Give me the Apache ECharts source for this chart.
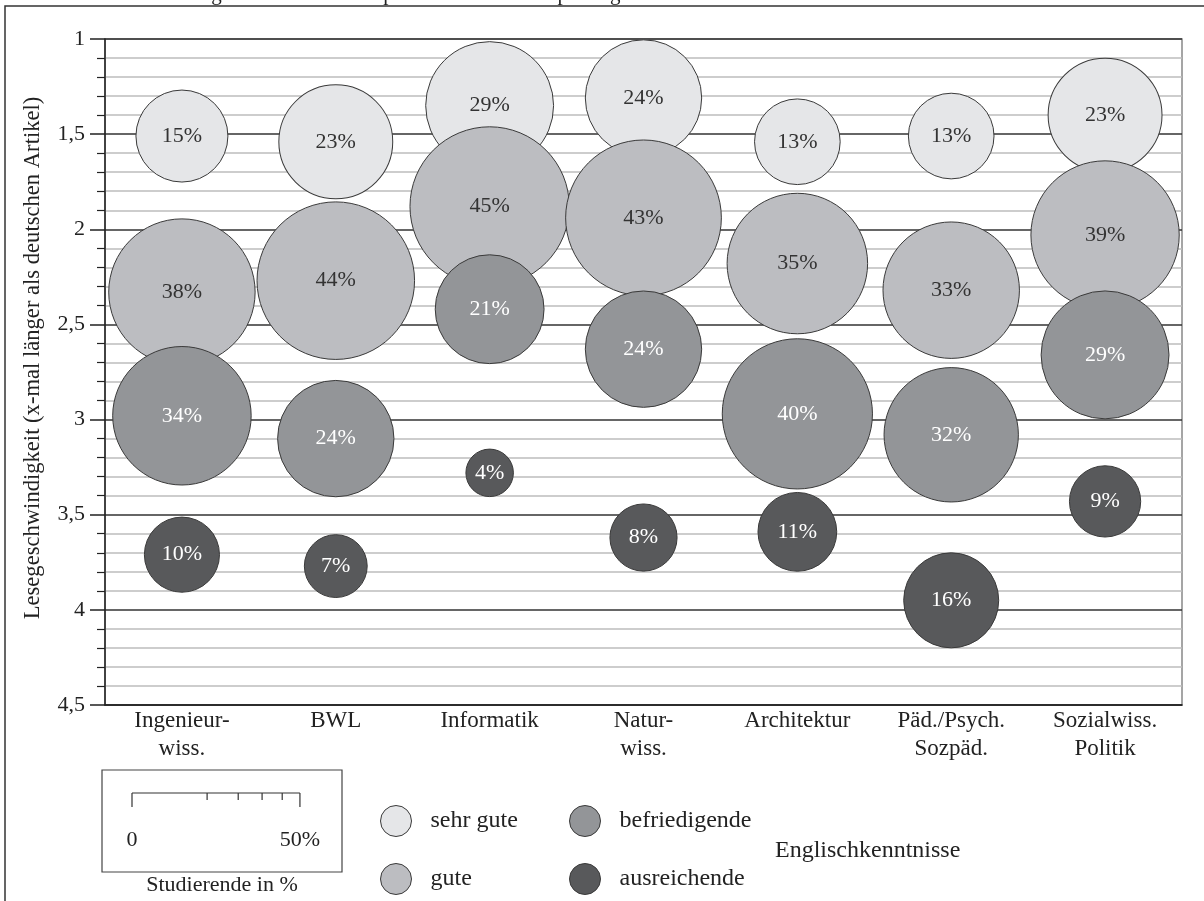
<!DOCTYPE html>
<html>
<head>
<meta charset="utf-8">
<script src="https://cdn.jsdelivr.net/npm/echarts@6/dist/echarts.min.js"></script>
<style>
  html, body { margin: 0; padding: 0; background: #fff; }
  #chart { width: 1204px; height: 901px; }
</style>
</head>
<body>
<div id="chart"></div>
<script>
// ---- data ----
const categories = ['Ingenieur-\nwiss.', 'BWL', 'Informatik', 'Natur-\nwiss.', 'Architektur', 'Päd./Psych.\nSozpäd.', 'Sozialwiss.\nPolitik'];
const levelNames = ['sehr gute', 'gute', 'befriedigende', 'ausreichende'];

const sehrGuteSpeed = [1.51, 1.54, 1.35, 1.31, 1.54, 1.51, 1.40];
const sehrGutePct   = [15, 23, 29, 24, 13, 13, 23];
const guteSpeed     = [2.33, 2.27, 1.88, 1.94, 2.18, 2.32, 2.03];
const gutePct       = [38, 44, 45, 43, 35, 33, 39];
const befrSpeed     = [2.98, 3.10, 2.42, 2.63, 2.97, 3.08, 2.66];
const befrPct       = [34, 24, 21, 24, 40, 32, 29];
const ausrSpeed     = [3.71, 3.77, 3.28, 3.62, 3.59, 3.95, 3.43];
const ausrPct       = [10, 7, 4, 8, 11, 16, 9];

const scaleTicks = [0, 10, 20, 30, 40, 50];
const yMin = 1, yMax = 4.5, yStep = 0.5;

// ---- styling ----
const FONT = '"Liberation Serif", "Times New Roman", serif';
const fills = ['#e5e6e8', '#bcbdc1', '#939598', '#58595b'];
const labelColors = ['#333', '#333', '#fff', '#fff'];
const SIZE_K = 23.75;
function sizeFn(p) { return SIZE_K * Math.sqrt(p); }

const speeds = [sehrGuteSpeed, guteSpeed, befrSpeed, ausrSpeed];
const pcts = [sehrGutePct, gutePct, befrPct, ausrPct];

const series = levelNames.map((name, i) => ({
  name: name,
  type: 'scatter',
  z: 2 + i,
  data: categories.map((c, j) => [j, speeds[i][j], pcts[i][j]]),
  symbolSize: v => sizeFn(v[2]),
  itemStyle: { color: fills[i], borderColor: '#3a3a3a', borderWidth: 1, opacity: 1 },
  label: {
    show: true, position: 'inside',
    formatter: p => p.data[2] + '%',
    color: labelColors[i], fontFamily: FONT, fontSize: 22
  },
  emphasis: { disabled: true }
}));

// scale legend graphics (computed from same size function)
const sx0 = 132, sy0 = 793;
const scaleGraphics = [];
scaleGraphics.push({ type: 'rect', shape: { x: 102, y: 770, width: 240, height: 102 },
  style: { fill: 'none', stroke: '#444', lineWidth: 1.2 } });
scaleGraphics.push({ type: 'line', shape: { x1: sx0, y1: sy0, x2: sx0 + sizeFn(50), y2: sy0 },
  style: { stroke: '#333', lineWidth: 1.2 } });
scaleTicks.forEach(t => {
  const x = sx0 + sizeFn(t);
  const end = (t === 0 || t === 50);
  scaleGraphics.push({ type: 'line', shape: { x1: x, y1: sy0, x2: x, y2: sy0 + (end ? 14 : 7) },
    style: { stroke: '#333', lineWidth: 1.2 } });
});
scaleGraphics.push({ type: 'text', x: sx0, y: 840,
  style: { text: '0', font: '22px ' + FONT, fill: '#222', align: 'center', verticalAlign: 'middle' } });
scaleGraphics.push({ type: 'text', x: sx0 + sizeFn(50), y: 840,
  style: { text: '50%', font: '22px ' + FONT, fill: '#222', align: 'center', verticalAlign: 'middle' } });
scaleGraphics.push({ type: 'text', x: 222, y: 885,
  style: { text: 'Studierende in %', font: '22px ' + FONT, fill: '#222', align: 'center', verticalAlign: 'middle' } });

const legendText = { color: '#222', fontFamily: FONT, fontSize: 24, padding: [0, 0, 0, 14] };

const chart = echarts.init(document.getElementById('chart'), null, { renderer: 'canvas' });
chart.setOption({
  animation: false,
  backgroundColor: '#fff',
  grid: { left: 105, right: 22, top: 39, bottom: 196, show: true, borderColor: '#888', borderWidth: 1.5, backgroundColor: 'transparent' },
  xAxis: {
    type: 'category',
    data: categories,
    axisLine: { show: true, lineStyle: { color: '#222', width: 1.5 } },
    axisTick: { show: false },
    axisLabel: { color: '#222', fontFamily: FONT, fontSize: 23, lineHeight: 28, margin: 2, interval: 0 },
    splitLine: { show: false }
  },
  yAxis: {
    type: 'value',
    inverse: true,
    min: yMin, max: yMax, interval: yStep,
    name: 'Lesegeschwindigkeit (x-mal länger als deutschen Artikel)',
    nameLocation: 'middle',
    nameGap: 60,
    nameTextStyle: { color: '#222', fontFamily: FONT, fontSize: 22.6, padding: [0, 0, 0, 28] },
    axisLine: { show: true, lineStyle: { color: '#222', width: 1.5 } },
    axisTick: { show: true, length: 15, lineStyle: { color: '#222', width: 1.5 } },
    minorTick: { show: true, splitNumber: 5, length: 8, lineStyle: { color: '#222', width: 1.2 } },
    axisLabel: { color: '#222', fontFamily: FONT, fontSize: 22, margin: 20,
      formatter: v => String(v).replace('.', ',') },
    splitLine: { show: true, lineStyle: { color: '#333', width: 1.5 } },
    minorSplitLine: { show: true, lineStyle: { color: '#bdbdbd', width: 1.5 } }
  },
  legend: [
    { data: ['sehr gute', 'gute'], orient: 'vertical', left: 375, top: 800,
      itemWidth: 31, itemHeight: 31, itemGap: 26, icon: 'circle',
      itemStyle: { borderColor: '#3a3a3a', borderWidth: 1 },
      textStyle: legendText, selectedMode: false },
    { data: ['befriedigende', 'ausreichende'], orient: 'vertical', left: 564, top: 800,
      itemWidth: 31, itemHeight: 31, itemGap: 26, icon: 'circle',
      itemStyle: { borderColor: '#3a3a3a', borderWidth: 1 },
      textStyle: legendText, selectedMode: false }
  ],
  graphic: [
    { type: 'rect', shape: { x: 5, y: 6, width: 1400, height: 1000 },
      style: { fill: 'none', stroke: '#333', lineWidth: 1.5 }, silent: true },
    { type: 'text', x: 155, y: 5,
      style: { text: 'im Vergleich zu einem entsprechenden deutschsprachigen Artikel', font: '21px ' + FONT, fill: '#222', align: 'left', verticalAlign: 'bottom' } },
    { type: 'text', x: 775, y: 851,
      style: { text: 'Englischkenntnisse', font: '24px ' + FONT, fill: '#222', align: 'left', verticalAlign: 'middle' } }
  ].concat(scaleGraphics),
  series: series
});
</script>
</body>
</html>
